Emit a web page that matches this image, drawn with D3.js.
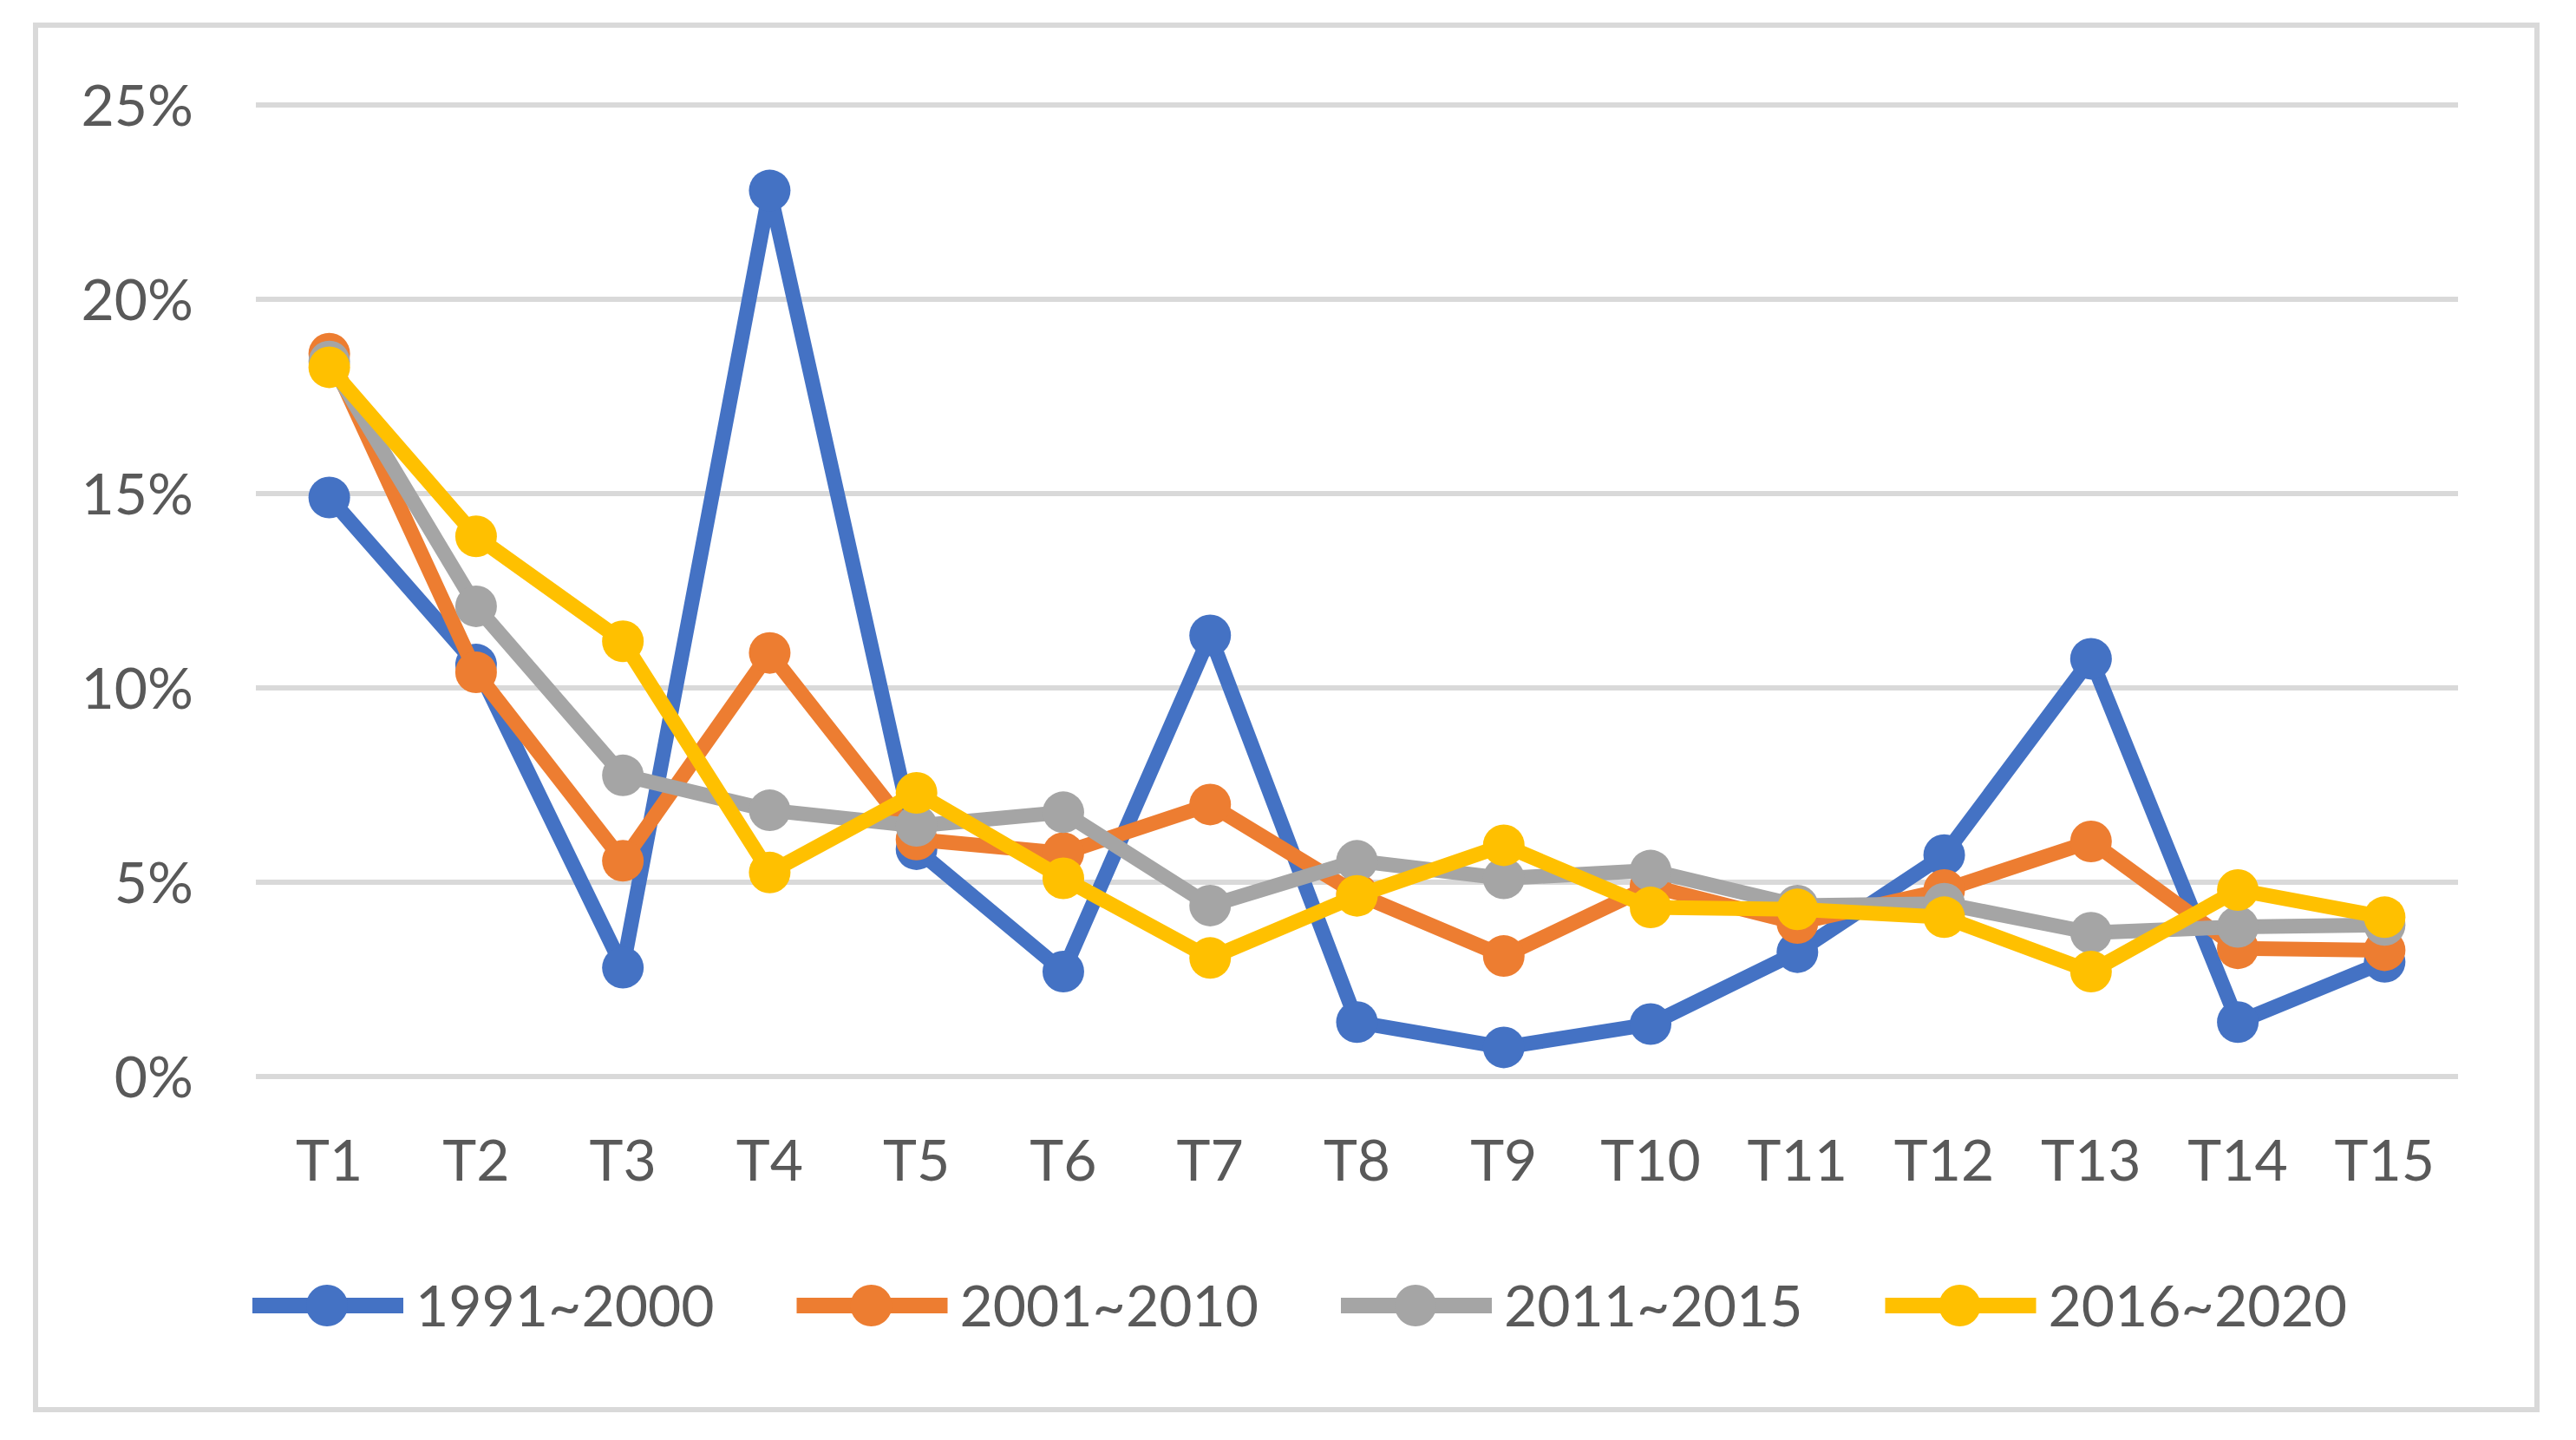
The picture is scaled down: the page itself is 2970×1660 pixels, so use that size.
<!DOCTYPE html>
<meta charset="utf-8" />
<style>
  body { margin: 0; background: #fff; }
  text { font-family: Lato, 'Liberation Sans', sans-serif; fill: #595959; }
  .line { fill: none; stroke-width: 17px; stroke-linejoin: round; }
  .grid { stroke: #d9d9d9; stroke-width: 6px; }
</style>
<svg width="2970" height="1660"></svg>
<script src="https://d3js.org/d3.v7.min.js"></script>
<script>
  var categories = ['T1', 'T2', 'T3', 'T4', 'T5', 'T6', 'T7', 'T8', 'T9', 'T10', 'T11', 'T12', 'T13', 'T14', 'T15'];
  var seriesNames = ['1991~2000', '2001~2010', '2011~2015', '2016~2020'];
  var s1991 = [14.9, 10.6, 2.8, 22.8, 5.85, 2.7, 11.35, 1.4, 0.75, 1.35, 3.2, 5.7, 10.75, 1.4, 2.95];
  var s2001 = [18.6, 10.4, 5.55, 10.9, 6.1, 5.75, 7.0, 4.7, 3.1, 4.9, 3.95, 4.8, 6.05, 3.3, 3.25];
  var s2011 = [18.4, 12.1, 7.75, 6.85, 6.45, 6.8, 4.4, 5.55, 5.1, 5.3, 4.4, 4.45, 3.7, 3.85, 3.9];
  var s2016 = [18.25, 13.9, 11.2, 5.25, 7.3, 5.1, 3.05, 4.65, 5.95, 4.35, 4.3, 4.1, 2.7, 4.8, 4.1];
  var yTicks = [0, 0.05, 0.1, 0.15, 0.2, 0.25];
  var colors = ['#4472c4', '#ed7d31', '#a5a5a5', '#ffc000'];

  var svg = d3.select('svg');
  var plot = { left: 295, right: 2834, top: 121, bottom: 1241 };

  // chart border
  svg.append('rect')
    .attr('x', 41).attr('y', 29)
    .attr('width', 2925 - 41).attr('height', 1625 - 29)
    .attr('fill', '#fff')
    .attr('stroke', '#d9d9d9')
    .attr('stroke-width', 6);

  var x = d3.scaleBand().domain(categories).range([plot.left, plot.right]).padding(0),
    y = d3.scaleLinear().domain([0, 0.25]).range([plot.bottom, plot.top]);

  var cx = function (c) { return x(c) + x.bandwidth() / 2; };

  svg.append('g')
    .selectAll('line')
    .data(yTicks)
    .enter()
    .append('line')
    .attr('class', 'grid')
    .attr('x1', plot.left).attr('x2', plot.right)
    .attr('y1', function (d) { return y(d); })
    .attr('y2', function (d) { return y(d); });

  var yAxis = svg.append('g')
    .attr('transform', 'translate(' + plot.left + ',0)')
    .call(d3.axisLeft(y).tickValues(yTicks).tickSize(0).tickPadding(72).tickFormat(d3.format('.0%')));
  yAxis.select('.domain').remove();
  yAxis.selectAll('text')
    .attr('dy', '0.36em')
    .style('font-size', '66px')
    .style('font-family', null)
    .attr('fill', '#595959');
  yAxis.attr('font-family', null);

  var xAxis = svg.append('g')
    .attr('transform', 'translate(0,' + plot.bottom + ')')
    .call(d3.axisBottom(x).tickSize(0));
  xAxis.select('.domain').remove();
  xAxis.selectAll('text')
    .attr('y', 120).attr('dy', null)
    .style('font-size', '66px')
    .attr('fill', '#595959');
  xAxis.attr('font-family', null);

  var series = [s1991, s2001, s2011, s2016].map(function (vals, i) {
    return {
      id: seriesNames[i],
      color: colors[i],
      values: vals.map(function (v, j) { return { cat: categories[j], value: v / 100 }; })
    };
  });

  var line = d3.line()
    .x(function (d) { return cx(d.cat); })
    .y(function (d) { return y(d.value); });

  var sg = svg.selectAll('.series')
    .data(series)
    .enter()
    .append('g')
    .attr('class', 'series');

  sg.append('path')
    .attr('class', 'line')
    .attr('d', function (d) { return line(d.values); })
    .style('stroke', function (d) { return d.color; });

  sg.each(function (s) {
    d3.select(this).selectAll('circle')
      .data(s.values)
      .enter()
      .append('circle')
      .attr('cx', function (d) { return cx(d.cat); })
      .attr('cy', function (d) { return y(d.value); })
      .attr('r', 24)
      .attr('fill', s.color);
  });

  // legend
  var legend = svg.selectAll('.legend')
    .data(series)
    .enter()
    .append('g')
    .attr('class', 'legend')
    .attr('transform', function (d, i) { return 'translate(' + (377 + i * 627.5) + ',1505)'; });

  legend.append('line')
    .attr('x1', -86).attr('x2', 88)
    .attr('y1', 0).attr('y2', 0)
    .attr('stroke', function (d) { return d.color; })
    .attr('stroke-width', 18);
  legend.append('circle')
    .attr('r', 24)
    .attr('fill', function (d) { return d.color; });
  legend.append('text')
    .attr('x', 102)
    .attr('y', 24)
    .style('font-size', '66px')
    .text(function (d) { return d.id; });
</script>
